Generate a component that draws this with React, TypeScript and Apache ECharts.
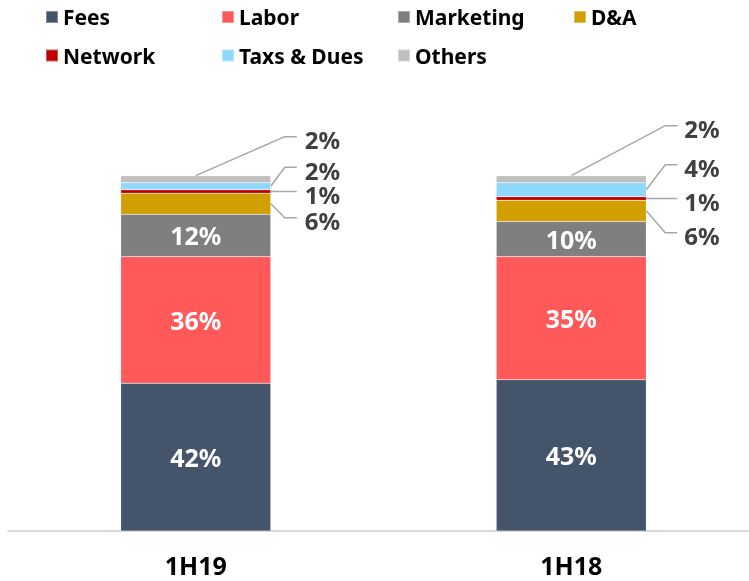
import React, { useEffect, useRef } from "react";
import * as echarts from "echarts";

const CATEGORIES = ["1H19", "1H18"];
const SERIES_NAMES = ["Fees", "Labor", "Marketing", "D&A", "Network", "Taxs & Dues", "Others"];
const FEES = [42, 43];
const LABOR = [36, 35];
const MARKETING = [12, 10];
const DA = [6, 6];
const NETWORK = [1, 1];
const TAXES = [2, 4];
const OTHERS = [2, 2];
const SERIES_VALUES = [FEES, LABOR, MARKETING, DA, NETWORK, TAXES, OTHERS];

const COLORS = ["#44546A", "#FF5959", "#7F7F7F", "#D29F00", "#C00000", "#8DD8FC", "#BFBFBF"];
const INSIDE_LABELS = [true, true, true, false, false, false, false];
const FONT = '"Noto Sans", "Open Sans", sans-serif';

// annotation layout (pixel offsets of the leader lines, per category)
const LINE_DY = [
  [14, 0, -19, -39],
  [22, 0, -25, -50],
];
const ELBOW_DX = [14, 19];
const END_DX = [26, 31];
const TEXT_DX = [34, 38];
const BAR_WIDTH = 150;

export default function App() {
  const ref = useRef<HTMLDivElement>(null);
  useEffect(() => {
    if (!ref.current) return;
    const chart = echarts.init(ref.current, null, { renderer: "svg" });
    const legendCommon = {
      icon: "rect",
      itemWidth: 12,
      itemHeight: 12,
      itemGap: 11,
      padding: 0,
      left: 45,
      selectedMode: false,
      textStyle: {
        fontSize: 21,
        fontWeight: "bold",
        color: "#000",
        fontFamily: FONT,
        width: 147,
        lineHeight: 22,
        padding: [8, 0, 0, 0],
      },
    };
    const option: any = {
      animation: false,
      legend: [
        { ...legendCommon, top: 2, data: SERIES_NAMES.slice(0, 4) },
        { ...legendCommon, top: 40.5, data: SERIES_NAMES.slice(4) },
      ],
      grid: { left: 8, right: -10, top: 144, bottom: 50, containLabel: false, outerBoundsMode: "none" },
      xAxis: {
        type: "category",
        data: CATEGORIES,
        axisTick: { show: false },
        axisLine: { lineStyle: { color: "#D9D9D9", width: 2 } },
        axisLabel: { fontSize: 25, fontWeight: "bold", color: "#000", fontFamily: FONT, margin: 22, lineHeight: 24 },
      },
      yAxis: { type: "value", min: 0, max: 110, show: false, splitLine: { show: false } },
      series: SERIES_NAMES.map((name, i) => ({
        name,
        type: "bar",
        stack: "total",
        barWidth: BAR_WIDTH,
        data: SERIES_VALUES[i],
        itemStyle: { color: COLORS[i], borderColor: "rgba(255,255,255,0.35)", borderWidth: 0.5 },
        label: {
          show: INSIDE_LABELS[i],
          position: "inside",
          color: "#fff",
          fontSize: 25,
          fontWeight: "bold",
          fontFamily: FONT,
          formatter: "{c}%",
        },
      })),
    };
    chart.setOption(option);

    const graphics: any[] = [];
    CATEGORIES.forEach((_, ci) => {
      let cum = 0;
      const bounds: number[][] = [];
      SERIES_VALUES.forEach((vals) => {
        const lo = cum;
        cum += vals[ci];
        bounds.push([lo, cum]);
      });
      for (let k = 3; k < 7; k++) {
        const [lo, hi] = bounds[k];
        const pLo = chart.convertToPixel({ gridIndex: 0 }, [ci, lo]) as number[];
        const pHi = chart.convertToPixel({ gridIndex: 0 }, [ci, hi]) as number[];
        const cx = pLo[0];
        const edge = cx + BAR_WIDTH / 2;
        let ax: number, ay: number;
        if (k === 6) {
          ax = cx;
          ay = pHi[1];
        } else {
          ax = edge;
          ay = (pLo[1] + pHi[1]) / 2;
        }
        const ly = ay + LINE_DY[ci][k - 3];
        graphics.push({
          type: "polyline",
          shape: { points: [[ax, ay], [edge + ELBOW_DX[ci], ly], [edge + END_DX[ci], ly]] },
          style: { stroke: "#A6A6A6", lineWidth: 1.5, fill: null },
          silent: true,
        });
        graphics.push({
          type: "text",
          x: edge + TEXT_DX[ci],
          y: ly + 3,
          style: {
            text: SERIES_VALUES[k][ci] + "%",
            fill: "#404040",
            fontSize: 24,
            fontWeight: "bold",
            fontFamily: FONT,
            lineHeight: 20,
            align: "left",
            verticalAlign: "middle",
          },
          silent: true,
        });
      }
    });
    chart.setOption({ graphic: graphics });
    return () => chart.dispose();
  }, []);
  return <div ref={ref} style={{ position: "fixed", left: 0, top: 0, width: 749, height: 581 }} />;
}
